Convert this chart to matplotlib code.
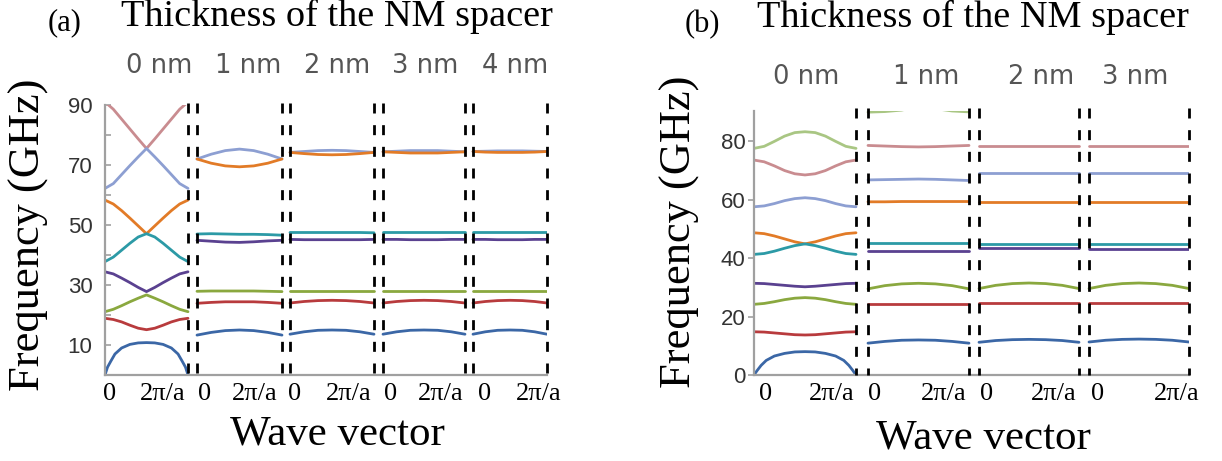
import matplotlib
matplotlib.use("Agg")
import matplotlib.pyplot as plt

plt.rcParams['lines.scale_dashes'] = False

# ---------------- data ----------------
# wave-vector fractions (0 .. 2pi/a) used for the sampled points
K11 = [0.0, 0.1, 0.2, 0.3, 0.4, 0.5, 0.6, 0.7, 0.8, 0.9, 1.0]
K_AC = [0.0, 0.03, 0.07, 0.12, 0.2, 0.3, 0.4, 0.5, 0.6, 0.7, 0.8, 0.88, 0.93, 0.97, 1.0]
K7 = [0.0, 0.167, 0.333, 0.5, 0.667, 0.833, 1.0]

A_LABELS = ["0 nm", "1 nm", "2 nm", "3 nm", "4 nm"]
B_LABELS = ["0 nm", "1 nm", "2 nm", "3 nm"]
X_TICK_LABELS = ["0", "2\u03c0/a"]
A_YTICKS = [10, 30, 50, 70, 90]
B_YTICKS = [0, 20, 40, 60, 80]

# panel (a), 0 nm
A0_ROSE = [91.0, 88.6, 85.3, 82.0, 78.7, 75.5, 78.7, 82.0, 85.3, 88.6, 91.0]
A0_LAV = [62.2, 63.8, 66.8, 69.8, 72.7, 75.5, 72.7, 69.8, 66.8, 63.8, 62.2]
A0_ORANGE = [58.3, 57.0, 54.8, 52.3, 49.7, 47.1, 49.7, 52.3, 54.8, 57.0, 58.3]
A0_TEAL = [37.8, 39.3, 41.6, 43.9, 46.0, 47.1, 46.0, 43.9, 41.6, 39.3, 37.8]
A0_PURPLE = [34.4, 33.7, 32.3, 30.8, 29.2, 27.8, 29.2, 30.8, 32.3, 33.7, 34.4]
A0_GREEN = [21.1, 21.9, 23.1, 24.4, 25.6, 26.7, 25.6, 24.4, 23.1, 21.9, 21.1]
A0_RED = [18.9, 18.5, 17.7, 16.6, 15.6, 15.1, 15.6, 16.6, 17.7, 18.5, 18.9]
A0_BLUE = [0.0, 2.6, 4.6, 7.0, 9.0, 10.2, 10.7, 10.8, 10.7, 10.2, 9.0, 7.0, 4.6, 2.6, 0.0]

# panel (a), 1 nm
A1_LAV = [72.0, 73.6, 74.8, 75.3, 74.8, 73.6, 72.0]
A1_ORANGE = [72.0, 70.6, 69.7, 69.4, 69.7, 70.6, 72.0]
A1_TEAL = [47.0, 47.1, 47.0, 46.9, 46.9, 46.8, 46.6]
A1_PURPLE = [44.9, 44.6, 44.3, 44.2, 44.4, 44.7, 44.9]
A1_GREEN = [27.9, 28.0, 28.0, 28.0, 28.0, 27.9, 27.8]
A1_RED = [23.9, 24.2, 24.4, 24.4, 24.4, 24.2, 23.9]
A1_BLUE = [13.3, 14.2, 14.8, 15.0, 14.8, 14.2, 13.3]

# panel (a), 2 nm
A2_LAV = [74.2, 74.5, 74.8, 74.9, 74.8, 74.5, 74.2]
A2_ORANGE = [74.2, 73.8, 73.5, 73.4, 73.5, 73.8, 74.2]
A2_TEAL = [47.5, 47.5, 47.5, 47.5, 47.5, 47.5, 47.4]
A2_PURPLE = [45.2, 45.1, 45.1, 45.1, 45.1, 45.1, 45.2]
A2_GREEN = [28.0, 28.0, 28.0, 28.0, 28.0, 28.0, 28.0]
A2_RED = [24.0, 24.5, 24.8, 24.9, 24.8, 24.5, 24.0]
A2_BLUE = [13.6, 14.4, 14.9, 15.0, 14.9, 14.4, 13.6]

# panel (a), 3 nm
A3_LAV = [74.4, 74.6, 74.8, 74.8, 74.8, 74.6, 74.4]
A3_ORANGE = [74.4, 74.2, 74.0, 74.0, 74.0, 74.2, 74.4]
A3_TEAL = [47.5, 47.5, 47.5, 47.5, 47.5, 47.5, 47.5]
A3_PURPLE = [45.2, 45.2, 45.1, 45.1, 45.1, 45.2, 45.2]
A3_GREEN = [28.0, 28.0, 28.0, 28.0, 28.0, 28.0, 28.0]
A3_RED = [24.0, 24.5, 24.8, 24.9, 24.8, 24.5, 24.0]
A3_BLUE = [13.6, 14.4, 14.9, 15.0, 14.9, 14.4, 13.6]

# panel (a), 4 nm
A4_LAV = [74.5, 74.6, 74.7, 74.7, 74.7, 74.6, 74.5]
A4_ORANGE = [74.5, 74.3, 74.2, 74.2, 74.2, 74.3, 74.5]
A4_TEAL = [47.5, 47.5, 47.5, 47.5, 47.5, 47.5, 47.5]
A4_PURPLE = [45.2, 45.2, 45.1, 45.1, 45.1, 45.2, 45.2]
A4_GREEN = [28.0, 28.0, 28.0, 28.0, 28.0, 28.0, 28.0]
A4_RED = [24.0, 24.5, 24.8, 24.9, 24.8, 24.5, 24.0]
A4_BLUE = [13.6, 14.4, 14.9, 15.0, 14.9, 14.4, 13.6]

# panel (b), 0 nm
B0_LGREEN = [77.6, 78.3, 80.0, 81.8, 83.0, 83.3, 83.0, 81.8, 80.0, 78.3, 77.6]
B0_ROSE = [73.6, 73.0, 71.6, 70.0, 68.9, 68.5, 68.9, 70.0, 71.6, 73.0, 73.6]
B0_LAV = [57.6, 57.9, 58.7, 59.7, 60.4, 60.7, 60.4, 59.7, 58.7, 57.9, 57.6]
B0_ORANGE = [48.7, 48.4, 47.6, 46.6, 45.6, 44.9, 45.6, 46.6, 47.6, 48.4, 48.7]
B0_TEAL = [41.3, 41.6, 42.4, 43.4, 44.3, 44.9, 44.3, 43.4, 42.4, 41.6, 41.3]
B0_PURPLE = [31.4, 31.3, 31.0, 30.7, 30.4, 30.2, 30.4, 30.7, 31.0, 31.3, 31.4]
B0_GREEN = [24.2, 24.5, 25.1, 25.8, 26.3, 26.5, 26.3, 25.8, 25.1, 24.5, 24.2]
B0_RED = [14.8, 14.7, 14.4, 14.1, 13.8, 13.7, 13.8, 14.1, 14.4, 14.7, 14.8]
B0_BLUE = [0.0, 1.5, 3.3, 5.0, 6.5, 7.4, 7.9, 8.0, 7.9, 7.4, 6.5, 5.0, 3.3, 1.5, 0.0]

# panel (b), 1 nm
B1_LGREEN = [90.0, 90.2, 90.7, 92.0, 91.2, 90.4, 90.1]
B1_ROSE = [78.6, 78.4, 78.2, 78.1, 78.2, 78.4, 78.6]
B1_LAV = [66.8, 66.9, 67.0, 67.1, 67.0, 66.8, 66.6]
B1_ORANGE = [59.3, 59.3, 59.4, 59.4, 59.4, 59.4, 59.4]
B1_TEAL = [45.1, 45.1, 45.1, 45.1, 45.1, 45.1, 45.1]
B1_PURPLE = [42.6, 42.6, 42.6, 42.6, 42.6, 42.6, 42.6]
B1_GREEN = [29.5, 30.6, 31.2, 31.4, 31.2, 30.6, 29.5]
B1_RED = [24.2, 24.2, 24.2, 24.2, 24.2, 24.2, 24.2]
B1_BLUE = [10.9, 11.5, 11.9, 12.0, 11.9, 11.5, 10.9]

# panel (b), 2 nm
B2_ROSE = [78.5, 78.5, 78.5, 78.5, 78.5, 78.5, 78.5]
B2_LAV = [69.0, 69.0, 69.0, 69.0, 69.0, 69.0, 69.0]
B2_ORANGE = [59.4, 59.4, 59.4, 59.4, 59.4, 59.4, 59.4]
B2_TEAL = [44.9, 44.9, 44.9, 44.9, 44.9, 44.9, 44.9]
B2_PURPLE = [43.4, 43.4, 43.4, 43.4, 43.4, 43.4, 43.4]
B2_GREEN = [29.6, 30.7, 31.3, 31.5, 31.3, 30.7, 29.6]
B2_RED = [24.7, 24.7, 24.7, 24.7, 24.7, 24.7, 24.7]
B2_BLUE = [11.2, 11.8, 12.1, 12.2, 12.1, 11.8, 11.2]

# panel (b), 3 nm
B3_ROSE = [78.5, 78.5, 78.5, 78.5, 78.5, 78.5, 78.5]
B3_LAV = [69.1, 69.1, 69.1, 69.1, 69.1, 69.1, 69.1]
B3_ORANGE = [59.4, 59.4, 59.4, 59.4, 59.4, 59.4, 59.4]
B3_TEAL = [44.9, 44.9, 44.9, 44.9, 44.9, 44.9, 44.9]
B3_PURPLE = [43.3, 43.3, 43.3, 43.3, 43.3, 43.3, 43.3]
B3_GREEN = [29.6, 30.7, 31.3, 31.5, 31.3, 30.7, 29.6]
B3_RED = [24.8, 24.8, 24.8, 24.8, 24.8, 24.8, 24.8]
B3_BLUE = [11.3, 11.9, 12.2, 12.3, 12.2, 11.9, 11.3]

# ---------------- style ----------------
COL = {
    'blue': '#3b67a6', 'red': '#b83b3d', 'green': '#8aa83f', 'purple': '#5a4190',
    'teal': '#2c9aa6', 'orange': '#e27b27', 'lav': '#8d9fd2', 'rose': '#c98c90',
    'lgreen': '#a9c683',
}

W, H = 1222, 461
fig = plt.figure(figsize=(W / 100, H / 100), dpi=100)


def fx(px):
    return px / W


def fy(py):
    return 1 - py / H


SERIF = ['Liberation Serif', 'DejaVu Serif']
SANS = ['Liberation Sans', 'DejaVu Sans']

A_PANELS = [(105, 188), (197, 282), (290, 374), (383, 465), (473, 547)]
B_PANELS = [(754, 856), (868, 969), (979, 1079), (1089, 1189)]


def make_axes(left, right, top, bottom, ytop):
    ax = fig.add_axes([fx(left), fy(bottom), fx(right) - fx(left), (bottom - top) / H])
    ax.set_xlim(left, right)
    ax.set_ylim(0, ytop)
    for s in ['top', 'right']:
        ax.spines[s].set_visible(False)
    for s in ['left', 'bottom']:
        ax.spines[s].set_color('#a0a0a0')
        ax.spines[s].set_linewidth(1.6)
    ax.patch.set_alpha(0)
    return ax


def draw_band(ax, panel, ks, vals, color):
    l, r = panel
    xs = [l + k * (r - l) for k in ks]
    ax.plot(xs, vals, color=color, lw=2.0, solid_capstyle='round')


def draw_dashes(ax, xs, top):
    for x in xs:
        ax.plot([x, x], [top, 0], color='black', lw=2.0, linestyle=(0, (7.2, 8.4)),
                clip_on=False, zorder=5)


# ---------------- panel (a) ----------------
axA = make_axes(105, 547, 105, 375, 90)
a_sets = [
    [(K11, A0_ROSE, 'rose'), (K11, A0_LAV, 'lav'), (K11, A0_ORANGE, 'orange'),
     (K11, A0_TEAL, 'teal'), (K11, A0_PURPLE, 'purple'), (K11, A0_GREEN, 'green'),
     (K11, A0_RED, 'red'), (K_AC, A0_BLUE, 'blue')],
    [(K7, A1_LAV, 'lav'), (K7, A1_ORANGE, 'orange'), (K7, A1_TEAL, 'teal'),
     (K7, A1_PURPLE, 'purple'), (K7, A1_GREEN, 'green'), (K7, A1_RED, 'red'),
     (K7, A1_BLUE, 'blue')],
    [(K7, A2_LAV, 'lav'), (K7, A2_ORANGE, 'orange'), (K7, A2_TEAL, 'teal'),
     (K7, A2_PURPLE, 'purple'), (K7, A2_GREEN, 'green'), (K7, A2_RED, 'red'),
     (K7, A2_BLUE, 'blue')],
    [(K7, A3_LAV, 'lav'), (K7, A3_ORANGE, 'orange'), (K7, A3_TEAL, 'teal'),
     (K7, A3_PURPLE, 'purple'), (K7, A3_GREEN, 'green'), (K7, A3_RED, 'red'),
     (K7, A3_BLUE, 'blue')],
    [(K7, A4_LAV, 'lav'), (K7, A4_ORANGE, 'orange'), (K7, A4_TEAL, 'teal'),
     (K7, A4_PURPLE, 'purple'), (K7, A4_GREEN, 'green'), (K7, A4_RED, 'red'),
     (K7, A4_BLUE, 'blue')],
]
for panel, bands in zip(A_PANELS, a_sets):
    for ks, vals, c in bands:
        draw_band(axA, panel, ks, vals, COL[c])
draw_dashes(axA, [188, 197, 282, 290, 374, 383, 465, 473, 547], 90.5)

axA.set_yticks(A_YTICKS)
axA.set_yticks([20, 40, 60, 80], minor=True)
axA.tick_params(axis='y', which='both', direction='in', length=4, color='#a0a0a0',
                width=1.2, pad=9, labelsize=16, labelcolor='#333333')
for t in axA.get_yticklabels():
    t.set_family(SANS)
a_xt = [110, 163, 205, 255, 295, 349, 391, 441, 485, 539]
axA.set_xticks(a_xt, X_TICK_LABELS * 5)
axA.tick_params(axis='x', length=0, pad=6, labelsize=19)
for t in axA.get_xticklabels():
    t.set_family(SERIF)

# ---------------- panel (b) ----------------
axB = make_axes(754, 1189, 110.7, 375, 90.5)
b_sets = [
    [(K11, B0_LGREEN, 'lgreen'), (K11, B0_ROSE, 'rose'), (K11, B0_LAV, 'lav'),
     (K11, B0_ORANGE, 'orange'), (K11, B0_TEAL, 'teal'), (K11, B0_PURPLE, 'purple'),
     (K11, B0_GREEN, 'green'), (K11, B0_RED, 'red'), (K_AC, B0_BLUE, 'blue')],
    [(K7, B1_LGREEN, 'lgreen'), (K7, B1_ROSE, 'rose'), (K7, B1_LAV, 'lav'),
     (K7, B1_ORANGE, 'orange'), (K7, B1_TEAL, 'teal'), (K7, B1_PURPLE, 'purple'),
     (K7, B1_GREEN, 'green'), (K7, B1_RED, 'red'), (K7, B1_BLUE, 'blue')],
    [(K7, B2_ROSE, 'rose'), (K7, B2_LAV, 'lav'), (K7, B2_ORANGE, 'orange'),
     (K7, B2_TEAL, 'teal'), (K7, B2_PURPLE, 'purple'), (K7, B2_GREEN, 'green'),
     (K7, B2_RED, 'red'), (K7, B2_BLUE, 'blue')],
    [(K7, B3_ROSE, 'rose'), (K7, B3_LAV, 'lav'), (K7, B3_ORANGE, 'orange'),
     (K7, B3_TEAL, 'teal'), (K7, B3_PURPLE, 'purple'), (K7, B3_GREEN, 'green'),
     (K7, B3_RED, 'red'), (K7, B3_BLUE, 'blue')],
]
for panel, bands in zip(B_PANELS, b_sets):
    for ks, vals, c in bands:
        draw_band(axB, panel, ks, vals, COL[c])
draw_dashes(axB, [856, 868, 969, 979, 1079, 1089, 1189], 91.5)

axB.set_yticks(B_YTICKS)
axB.tick_params(axis='y', direction='out', length=4, color='#a0a0a0', width=1.2,
                pad=2, labelsize=16, labelcolor='#333333')
for t in axB.get_yticklabels():
    t.set_family(SANS)
b_xt = [766, 832, 875, 944, 987, 1054, 1098, 1177]
axB.set_xticks(b_xt, X_TICK_LABELS * 4)
axB.tick_params(axis='x', length=0, pad=6, labelsize=19)
for t in axB.get_xticklabels():
    t.set_family(SERIF)

# ---------------- texts ----------------
fig.text(fx(65), fy(23), "(a)", family=SERIF, size=22, ha='center', va='center')
fig.text(fx(337), fy(26), "Thickness of the NM spacer", family=SERIF, size=27.5,
         ha='center', va='baseline')
fig.text(fx(702), fy(25), "(b)", family=SERIF, size=22, ha='center', va='center')
fig.text(fx(973), fy(27), "Thickness of the NM spacer", family=SERIF, size=27.5,
         ha='center', va='baseline')

NM_FONT = ['DejaVu Sans']
for lab, x in zip(A_LABELS, [159, 248, 337, 425, 515]):
    fig.text(fx(x), fy(66), lab, family=NM_FONT, size=18.5,
             color='#555555', ha='center', va='center')
for lab, x in zip(B_LABELS, [806, 926, 1041, 1135]):
    fig.text(fx(x), fy(77), lab, family=NM_FONT, size=18.5,
             color='#555555', ha='center', va='center')

fig.text(fx(29), fy(235), "Frequency (GHz)", family=SERIF, size=32, rotation=90,
         ha='center', va='center')
fig.text(fx(680), fy(232), "Frequency (GHz)", family=SERIF, size=32, rotation=90,
         ha='center', va='center')
fig.text(fx(337), fy(434), "Wave vector", family=SERIF, size=31, ha='center', va='center')
fig.text(fx(983), fy(438), "Wave vector", family=SERIF, size=31, ha='center', va='center')

fig.savefig("out.png", dpi=100, facecolor='white')
